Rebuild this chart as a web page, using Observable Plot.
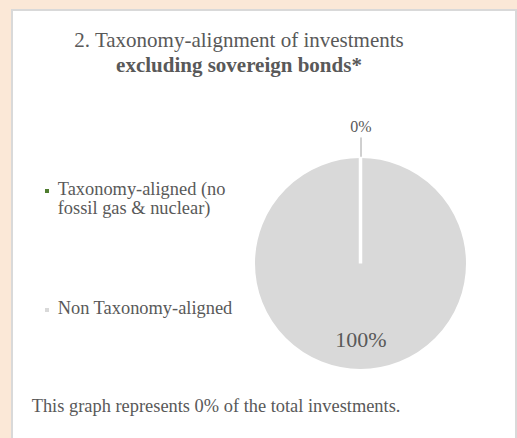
<!DOCTYPE html>
<html>
<head>
<meta charset="utf-8">
<script src="https://cdn.jsdelivr.net/npm/d3@7"></script>
<script src="https://cdn.jsdelivr.net/npm/@observablehq/plot@0.6"></script>
<style>
  html, body { margin: 0; padding: 0; width: 517px; height: 438px; overflow: hidden;
    background: #fbe8d7; font-family: "Liberation Serif", "Times New Roman", serif; color: #595959; }
  #panel { position: absolute; left: 11px; top: 9px; width: 506px; height: 520px; background: #fff;
    border: 2px solid #d9d9d9; box-sizing: border-box; }
  #title { position: absolute; left: 0; width: 478px; top: 28.4px; text-align: center;
    font-size: 21px; line-height: 25px; color: #595959; }
  #title b { font-weight: bold; }
  .leg { position: absolute; left: 57.7px; width: 180px; font-size: 18.4px; line-height: 19px; color: #595959; }
  .mk { position: absolute; left: 45px; width: 4px; height: 4px; }
  #foot { position: absolute; left: 31.7px; top: 397.3px; font-size: 18.4px; line-height: 19px; color: #595959; white-space: nowrap; }
  #chart { position: absolute; left: 240px; top: 100px; }
</style>
</head>
<body>
<div id="panel"></div>
<div id="title">2. Taxonomy-alignment of investments<br><b>excluding sovereign bonds*</b></div>
<div id="legend"></div>
<div id="foot">This graph represents 0% of the total investments.</div>
<div id="chart"></div>
<script>
// ---- data ----
const categories = ["Taxonomy-aligned (no fossil gas & nuclear)", "Non Taxonomy-aligned"];
const shares = [0, 100];
const sliceColors = ["#4f7d2f", "#d9d9d9"];
const shareLabels = ["0%", "100%"];
const coverageNote = "This graph represents 0% of the total investments.";

// ---- legend (HTML, from the arrays) ----
const legendTops = [180.3, 299.3];
const legend = document.getElementById("legend");
categories.forEach((c, i) => {
  const t = document.createElement("div");
  t.className = "leg";
  t.style.top = legendTops[i] + "px";
  t.textContent = c;
  legend.appendChild(t);
  const m = document.createElement("div");
  m.className = "mk";
  m.style.top = (legendTops[i] + 8.2) + "px";
  m.style.background = sliceColors[i];
  legend.appendChild(m);
});
document.getElementById("foot").textContent = coverageNote;

// ---- pie geometry from d3.pie ----
const rows = categories.map((c, i) => ({category: c, value: shares[i], color: sliceColors[i], label: shareLabels[i]}));
const arcs = d3.pie().sort(null).value(d => d.value)(rows);
const total = d3.sum(shares);
const labelRows = arcs.map(a => {
  const mid = (a.startAngle + a.endAngle) / 2;
  const outside = a.data.value / total < 0.05;
  const k = outside ? 1.274 : 0.704;
  return {label: a.data.label, outside, mid,
    x: k * Math.sin(mid), y: k * Math.cos(mid),
    x1: 1.0 * Math.sin(mid), y1: 1.0 * Math.cos(mid),
    x2: 1.18 * Math.sin(mid), y2: 1.18 * Math.cos(mid)};
});

function pieMark(index, scales) {
  const sx = scales.x, sy = scales.y;
  const cx = sx(0), cy = sy(0), r = sx(1) - sx(0);
  const arc = d3.arc().innerRadius(0).outerRadius(r);
  const g = d3.create("svg:g").attr("transform", `translate(${cx},${cy})`);
  g.append("g").selectAll("path").data(arcs).join("path")
    .attr("d", arc).attr("fill", d => d.data.color);
  g.append("g").selectAll("path").data(arcs).join("path")
    .attr("d", arc).attr("fill", "none").attr("stroke", "#fff")
    .attr("stroke-width", 3.5).attr("stroke-linejoin", "bevel");
  return g.node();
}

const chart = Plot.plot({
  width: 240,
  height: 290,
  margin: 0,
  x: {domain: [-1, 1], range: [13.25, 227.75], axis: null},
  y: {domain: [-1, 1], range: [270.75, 56.25], axis: null},
  style: {background: "transparent", fontFamily: "'Liberation Serif','Times New Roman',serif"},
  marks: [
    pieMark,
    Plot.link(labelRows.filter(d => d.outside), {x1: "x1", y1: "y1", x2: "x2", y2: "y2", stroke: "#a0a0a0", strokeWidth: 1}),
    Plot.text(labelRows.filter(d => d.outside), {x: "x", y: "y", text: "label", fontSize: 16, fill: "#595959"}),
    Plot.text(labelRows.filter(d => !d.outside), {x: "x", y: "y", text: "label", fontSize: 22, fill: "#595959"})
  ]
});
document.getElementById("chart").appendChild(chart);
</script>
</body>
</html>
